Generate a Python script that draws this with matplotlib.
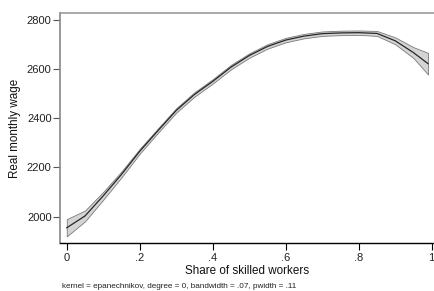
import matplotlib
matplotlib.use("Agg")
import matplotlib.pyplot as plt
import numpy as np

# Data
share = [0.00, 0.05, 0.10, 0.15, 0.20, 0.25, 0.30, 0.35, 0.40, 0.45, 0.50,
         0.55, 0.60, 0.65, 0.70, 0.75, 0.80, 0.85, 0.90, 0.95, 0.99]
wage = [1955, 2003, 2085, 2172, 2266, 2350, 2432, 2497, 2550, 2608, 2655,
        2692, 2718, 2734, 2744, 2747, 2748, 2745, 2715, 2667, 2622]
ci_half = [35, 22, 16, 12, 10, 9, 9, 9, 9, 9, 9,
           9, 9, 9, 9, 9, 9, 10, 14, 22, 44]
xticks = [0, 0.2, 0.4, 0.6, 0.8, 1.0]
xticklabels = ["0", ".2", ".4", ".6", ".8", "1"]
yticks = [2000, 2200, 2400, 2600, 2800]

plt.rcParams['font.family'] = ['Liberation Sans', 'DejaVu Sans']

fig = plt.figure(figsize=(4.35, 2.91), dpi=100)
ax = fig.add_axes([60/435, 1-243/291, 375/435, (243-13)/291])

x = np.array(share)
y = np.array(wage)
h = np.array(ci_half)
ax.fill_between(x, y - h, y + h, facecolor='#d4d4d4', edgecolor='#7a7a7a', linewidth=0.6)
ax.plot(x, y, color='#262626', linewidth=0.9)

ax.set_xlim(-0.0186, 1.009)
ax.set_ylim(1893, 2828)

ax.set_xticks(xticks)
ax.set_xticklabels(xticklabels)
ax.set_yticks(yticks)
ax.set_yticklabels([str(v) for v in yticks])

ax.tick_params(axis='x', length=5, width=0.8, color='black', labelsize=8, pad=2, labelcolor='#222222')
ax.tick_params(axis='y', length=5, width=0.8, color='#555555', labelsize=8, pad=1, labelcolor='#222222')

ax.spines['right'].set_visible(False)
ax.spines['top'].set_color('#999999')
ax.spines['top'].set_linewidth(1.2)
ax.spines['left'].set_color('#888888')
ax.spines['left'].set_linewidth(1.2)
ax.spines['bottom'].set_color('black')
ax.spines['bottom'].set_linewidth(1.0)

ax.set_xlabel("Share of skilled workers", fontsize=8.4, labelpad=2, color='#111111')
ax.set_ylabel("Real monthly wage", fontsize=8.4, labelpad=4, color='#111111')

fig.text(62/435, 1-286/291, "kernel = epanechnikov, degree = 0, bandwidth = .07, pwidth = .11",
         fontsize=5.9, ha='left', va='center', color='#222222')

fig.savefig("out.png", dpi=100)
